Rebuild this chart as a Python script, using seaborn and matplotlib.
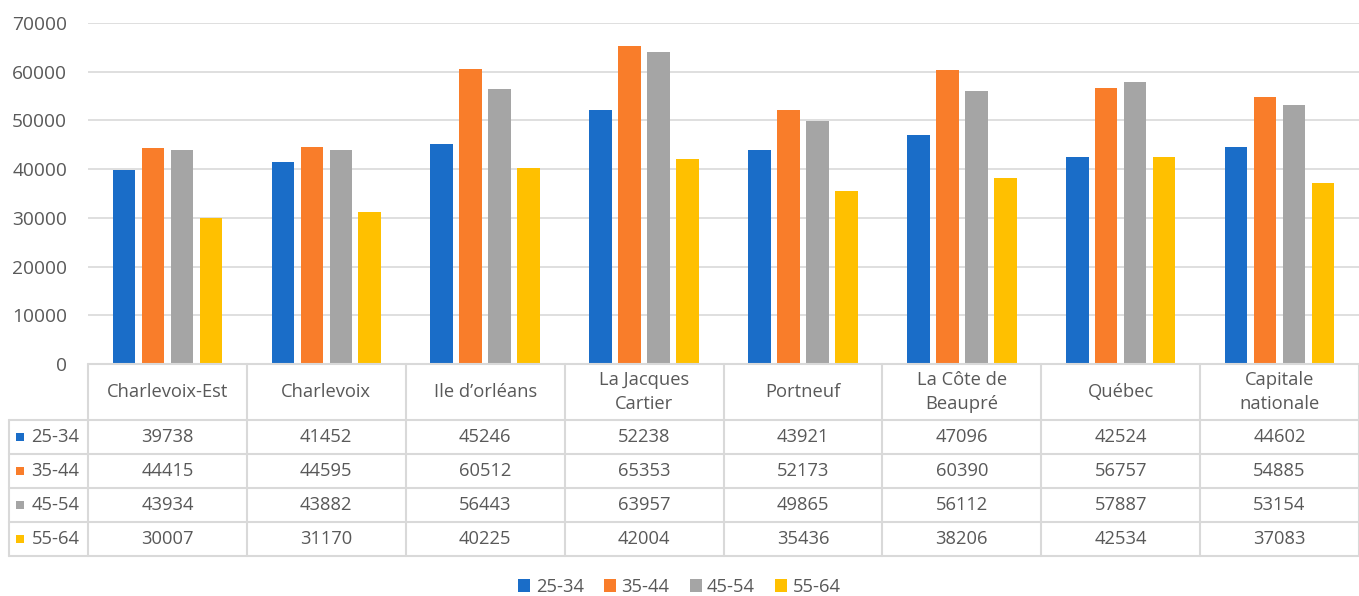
import pandas as pd
import seaborn as sns
import matplotlib.pyplot as plt
import matplotlib.transforms as mtransforms
from matplotlib.lines import Line2D
from matplotlib.patches import Rectangle

regions = ['Charlevoix-Est', 'Charlevoix', 'Ile d\u2019orléans', 'La Jacques\nCartier',
           'Portneuf', 'La Côte de\nBeaupré', 'Québec', 'Capitale\nnationale']
groups = ['25-34', '35-44', '45-54', '55-64']
v_25_34 = [39738, 41452, 45246, 52238, 43921, 47096, 42524, 44602]
v_35_44 = [44415, 44595, 60512, 65353, 52173, 60390, 56757, 54885]
v_45_54 = [43934, 43882, 56443, 63957, 49865, 56112, 57887, 53154]
v_55_64 = [30007, 31170, 40225, 42004, 35436, 38206, 42534, 37083]
colours = ['#1a6dc8', '#f97d2a', '#a5a5a5', '#ffc000']

values = [v_25_34, v_35_44, v_45_54, v_55_64]
rows = []
for g, vals in zip(groups, values):
    for r, v in zip(regions, vals):
        rows.append({'region': r, 'age': g, 'value': v})
df = pd.DataFrame(rows)

sns.set_style('white')
plt.rcParams['font.family'] = ['Open Sans', 'DejaVu Sans']
text_col = '#595959'
line_col = '#d9d9d9'
fs = 13.2

W, H = 1359, 596
fig = plt.figure(figsize=(W / 100, H / 100), dpi=100)
ax = fig.add_axes([88 / W, 1 - 364 / H, 1271 / W, 341 / H])

sns.barplot(data=df, x='region', y='value', hue='age', palette=colours,
            width=0.73, gap=0.22, ax=ax, saturation=1, linewidth=0, edgecolor='none')

ax.set_ylim(0, 70000)
ax.set_yticks(range(0, 70001, 10000))
ax.yaxis.grid(True, color=line_col, lw=1.2)
ax.set_axisbelow(True)
sns.despine(ax=ax, left=True, bottom=True)
ax.tick_params(axis='y', length=0, labelsize=13.8, labelcolor=text_col, pad=15)
ax.tick_params(axis='x', length=0)
ax.set_xticklabels([])
ax.set_xlabel('')
ax.set_ylabel('')

handles, labels = ax.get_legend_handles_labels()
ax.legend_.remove()

# data table under the chart
tr = mtransforms.blended_transform_factory(ax.transData, fig.transFigure)
def fy(py):
    return 1 - py / H

row_y = [364, 420, 454, 488, 522, 556]
n = len(regions)
fig.add_artist(Line2D([-0.5, n - 0.5], [fy(364), fy(364)], transform=tr, color=line_col, lw=1.5))
for py in row_y[1:]:
    fig.add_artist(Line2D([-1.0, n - 0.5], [fy(py), fy(py)], transform=tr, color=line_col, lw=1.5))
for i in range(n + 1):
    fig.add_artist(Line2D([i - 0.5, i - 0.5], [fy(364), fy(556)], transform=tr, color=line_col, lw=1.5))
fig.add_artist(Line2D([-1.0, -1.0], [fy(420), fy(556)], transform=tr, color=line_col, lw=1.5))

for i, r in enumerate(regions):
    fig.text(i, fy((364 + 420) / 2), r, transform=tr, ha='center', va='center',
             fontsize=fs, color=text_col, linespacing=1.45)

for j, (g, vals) in enumerate(zip(groups, values)):
    yc = fy((row_y[j + 1] + row_y[j + 2]) / 2)
    for i, v in enumerate(vals):
        fig.text(i, yc, str(v), transform=tr, ha='center', va='center',
                 fontsize=fs, color=text_col)
    fig.add_artist(Rectangle((-0.955, yc - 4 / H), 8 / 158.9, 8 / H, transform=tr,
                             facecolor=colours[j], edgecolor='none'))
    fig.text(-0.855, yc, g, transform=tr, ha='left', va='center',
             fontsize=fs, color=text_col)

fig.legend(handles, labels, loc='center', bbox_to_anchor=(0.5, fy(587)), ncol=4,
           frameon=False, handlelength=0.65, handleheight=0.65, handletextpad=0.3,
           columnspacing=1.1, fontsize=fs, labelcolor=text_col)

fig.savefig('out.png', dpi=100, facecolor='white')
